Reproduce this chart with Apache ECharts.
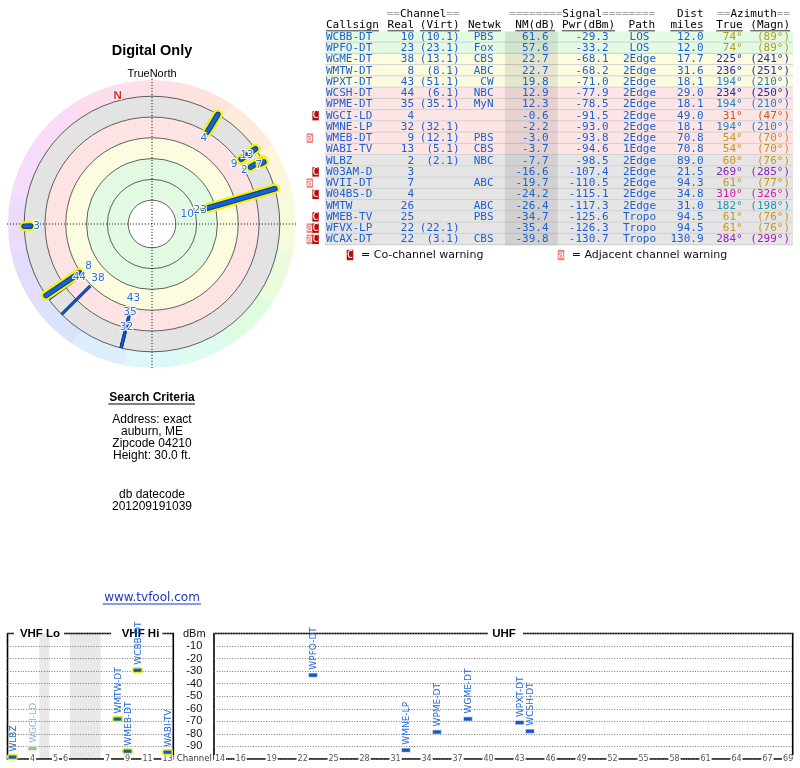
<!DOCTYPE html>
<html><head><meta charset="utf-8">
<script src="https://cdn.jsdelivr.net/npm/echarts@6/dist/echarts.min.js"></script>
<style>html,body{margin:0;padding:0;background:#fff}#main{width:800px;height:768px}</style>
</head><body><div id="main"></div>
<script>
// ---------------- DATA ----------------
const callsigns = ['WCBB-DT','WPFO-DT','WGME-DT','WMTW-DT','WPXT-DT','WCSH-DT','WPME-DT','WGCI-LD','WMNE-LP','WMEB-DT','WABI-TV','WLBZ','W03AM-D','WVII-DT','W04BS-D','WMTW','WMEB-TV','WFVX-LP','WCAX-DT'];
const realChannel = [10,23,38,8,43,44,35,4,32,9,13,2,3,7,4,26,25,22,22];
const virtualChannel = ['10.1','23.1','13.1','8.1','51.1','6.1','35.1','','32.1','12.1','5.1','2.1','','','','','','22.1','3.1'];
const network = ['PBS','Fox','CBS','ABC','CW','NBC','MyN','','','PBS','CBS','NBC','','ABC','','ABC','PBS','','CBS'];
const noiseMarginDb = [61.6,57.6,22.7,22.7,19.8,12.9,12.3,-0.6,-2.2,-3.0,-3.7,-7.7,-16.6,-19.7,-24.2,-26.4,-34.7,-35.4,-39.8];
const powerDbm = [-29.3,-33.2,-68.1,-68.2,-71.0,-77.9,-78.5,-91.5,-93.0,-93.8,-94.6,-98.5,-107.4,-110.5,-115.1,-117.3,-125.6,-126.3,-130.7];
const pathType = ['LOS','LOS','2Edge','2Edge','2Edge','2Edge','2Edge','2Edge','2Edge','2Edge','1Edge','2Edge','2Edge','2Edge','2Edge','2Edge','Tropo','Tropo','Tropo'];
const distMiles = [12.0,12.0,17.7,31.6,18.1,29.0,18.1,49.0,18.1,70.8,70.8,89.0,21.5,94.3,34.8,31.0,94.5,94.5,130.9];
const azimuthTrue = [74,74,225,236,194,234,194,31,194,54,54,60,269,61,310,182,61,61,284];
const azimuthMagn = [89,89,241,251,210,250,210,47,210,70,70,76,285,77,326,198,76,76,299];
const warnings = ['','','','','','','','C','','a','','','C','a','C','','C','aC','aC'];
const tableHeaders = ['Callsign','Real','(Virt)','Netwk','NM(dB)','Pwr(dBm)','Path','miles','True','(Magn)'];
const vhfTickChannels = [4,5,6,7,9,11,13];
const uhfTickChannels = [14,16,19,22,25,28,31,34,37,40,43,46,49,52,55,58,61,64,67,69];
const searchLines = ['Address: exact','auburn, ME','Zipcode 04210','Height: 30.0 ft.'];
const dbDateLines = ['db datecode','201209191039'];

// ---------------- STYLE / LAYOUT ----------------
const MONO = '"DejaVu Sans Mono", monospace';
const SANS = '"DejaVu Sans", sans-serif';
const ARIAL = '"Liberation Sans", Arial, sans-serif';
const BLUE = '#1d5fd0';
const azColor = {31:'#d8501a',54:'#c98f1f',60:'#c9951a',61:'#c9951a',74:'#b39e10',182:'#1e96b4',194:'#2680c2',225:'#2a2aae',234:'#2a28a6',236:'#2a28a6',269:'#8a1ec8',284:'#a21cbc',310:'#d01cb0'};
const rowFill = {green:'#e3fae3', yellow:'#fcfce1', pink:'#fde5e5', gray:'#e5e5e5'};
const rowBand = nm => nm >= 30 ? 'green' : nm >= 15 ? 'yellow' : nm >= -5 ? 'pink' : 'gray';
// polar scale (noise margin, dB): outer circle, colour-wheel edge
const POLAR_EDGE = -24, WHEEL_EDGE = -42.7, CROSS_EDGE = -44;
const polarBands = [[-24,0,'#e3e3e3'],[0,24,'#fde3e3'],[24,48,'#fcfcdf'],[48,96,'#e1fae1']];
const ringLevels = [96,72,48,24,0,-24];
const wheelColors = ['#fde0e6','#fde3dc','#fdebdc','#fdf5dc','#f6fbdc','#eafcdc','#defcdf','#dcfcee','#dcf8fb','#dcedfc','#dde2fc','#e4dcfc','#ecdcfc','#f5dcfb','#fbdcf6','#fddcec'];
const labelGap = {10:17,23:7,4:7,9:8,13:-7,2:7,7:2,3:6,8:11,44:6,38:11,43:13,35:5,32:3};
// VHF frequency-ordered slots (value axis position of each channel) and band gaps
const vhfSlot = {2:0.5,3:1.5,4:2.5,5:4.8,6:5.8,7:10,8:11,9:12,10:13,11:14,12:15,13:16};
const vhfGaps = [[3.18,4.18],[6.25,9.32]];
const slotLabel = {}; Object.keys(vhfSlot).forEach(c => slotLabel[vhfSlot[c]] = c);

const chart = echarts.init(document.getElementById('main'), null, {width:800, height:768});

// ---------------- GRAPHICS (table & texts) ----------------
const G = [];
function T(x, y, text, o) {
  o = o || {};
  const st = {text, fill:o.fill||'#000', fontSize:o.size||11, fontFamily:o.family||MONO, fontWeight:o.weight||'normal', align:o.align||'left', verticalAlign:'middle'};
  if (o.rich) st.rich = o.rich;
  G.push({type:'text', x, y, z:o.z||5, silent:true, style:st});
}
function R(x, y, w, h, fill, z) { G.push({type:'rect', z:z||3, silent:true, shape:{x, y, width:w, height:h}, style:{fill}}); }
function L(x1, y1, x2, y2, stroke, lw, z) { G.push({type:'line', z:z||4, silent:true, shape:{x1, y1, x2, y2}, style:{stroke, lineWidth:lw||1}}); }

const CW = 6.62, ROW0 = 37, ROWH = 11.25, TL = 325, TR = 793;
const H1 = 14.5, H2 = 25;
const gray = {g:{fill:'#a8a8a8', color:'#a8a8a8', fontFamily:MONO, fontSize:11}, b:{fill:'#000', color:'#000', fontFamily:MONO, fontSize:11}};
T(459.5, H1, '{g|==}{b|Channel}{g|==}', {align:'right', rich:gray});
T(655, H1, '{g|========}{b|Signal}{g|========}', {align:'right', rich:gray});
T(703.5, H1, 'Dist', {align:'right'});
T(790, H1, '{g|==}{b|Azimuth}{g|==}', {align:'right', rich:gray});
const headerRight = [null,414,459.5,501,555,615,655,703.5,742.7,790];
tableHeaders.forEach((h, k) => {
  if (k === 0) { T(326, H2, h); L(326, 30.8, 326 + h.length*CW, 30.8, '#000', 0.8); }
  else { T(headerRight[k], H2, h, {align:'right'}); L(headerRight[k] - h.length*CW, 30.8, headerRight[k], 30.8, '#000', 0.8); }
});
callsigns.forEach((cs, i) => {
  const yc = ROW0 + i*ROWH, top = yc - ROWH/2;
  R(TL, top, TR - TL, ROWH, rowFill[rowBand(noiseMarginDb[i])], 2);
  L(TL, top + ROWH - 0.5, TR, top + ROWH - 0.5, '#cfcfcf', 1, 3);
  T(326, yc, cs, {fill:BLUE});
  T(414, yc, String(realChannel[i]), {fill:BLUE, align:'right'});
  if (virtualChannel[i]) T(459.5, yc, '(' + virtualChannel[i] + ')', {fill:BLUE, align:'right'});
  if (network[i]) T(493.5, yc, network[i], {fill:BLUE, align:'right'});
  T(548.5, yc, noiseMarginDb[i].toFixed(1), {fill:BLUE, align:'right'});
  T(608.5, yc, powerDbm[i].toFixed(1), {fill:BLUE, align:'right'});
  T(639.5, yc, pathType[i], {fill:BLUE, align:'center'});
  T(703.5, yc, distMiles[i].toFixed(1), {fill:BLUE, align:'right'});
  const ac = azColor[azimuthTrue[i]] || BLUE;
  T(742.7, yc, azimuthTrue[i] + '°', {fill:ac, align:'right'});
  T(790, yc, '(' + azimuthMagn[i] + '°)', {fill:ac, align:'right'});
  // warning boxes
  const w = warnings[i];
  const boxes = w.length === 2 ? [['a',306.6],['C',312.4]] : w === 'C' ? [['C',312.4]] : w === 'a' ? [['a',306.6]] : [];
  boxes.forEach(([ch, bx]) => {
    R(bx, top + 0.8, 6.4, ROWH - 1.8, ch === 'C' ? '#b50d0d' : '#f08484', 3);
    T(bx + 3.2, yc, ch, {fill:'#fff', size:10, align:'center'});
  });
});
// NM column shading
R(505, ROW0 - ROWH/2, 52.7, ROWH*callsigns.length, 'rgba(0,0,0,0.085)', 4);
// legend
R(346.7, 249.8, 6.6, 10.4, '#b50d0d', 3); T(350, 255, 'C', {fill:'#fff', size:10, align:'center'});
T(361, 255, '= Co-channel warning', {family:SANS, fill:'#111'});
R(557.7, 249.8, 6.6, 10.4, '#f08484', 3); T(561, 255, 'a', {fill:'#fff', size:10, align:'center'});
T(571.7, 255, '= Adjacent channel warning', {family:SANS, fill:'#111'});

// left texts
T(152, 51, 'Digital Only', {family:ARIAL, size:14.5, weight:'bold', align:'center'});
T(152, 74, 'TrueNorth', {family:ARIAL, size:11, align:'center'});
T(152, 397.5, 'Search Criteria', {family:ARIAL, size:12, weight:'bold', align:'center'});
L(108.3, 404, 195, 404, '#000', 1);
searchLines.forEach((s, k) => T(152, 420 + k*12, s, {family:ARIAL, size:12, align:'center'}));
dbDateLines.forEach((s, k) => T(152, 494.3 + k*12, s, {family:ARIAL, size:12, align:'center'}));
T(152, 598, 'www.tvfool.com', {family:SANS, size:12, fill:'#2233c4', align:'center'});
L(102.7, 604, 201, 604, '#2233c4', 1);

// panel titles on the frame
R(14, 629, 50, 9, '#fff', 1); T(40, 634, 'VHF Lo', {family:ARIAL, size:11.5, weight:'bold', align:'center', z:1});
R(111, 629, 51.5, 9, '#fff', 1); T(140.5, 634, 'VHF Hi', {family:ARIAL, size:11.5, weight:'bold', align:'center', z:1});
R(488, 629, 35, 9, '#fff', 1); T(504, 634, 'UHF', {family:ARIAL, size:11.5, weight:'bold', align:'center', z:1});

// ---------------- SERIES ----------------
function rpx(api, cs, nm) { const p = api.coord([nm, 0]); return Math.hypot(p[0] - cs.cx, p[1] - cs.cy); }
const toRad = az => (az - 90) * Math.PI / 180;

const bgSeries = {
  type:'custom', coordinateSystem:'polar', polarIndex:0, silent:true, z:1,
  data:[[0,0]],
  renderItem(params, api) {
    const cs = params.coordSys, cx = cs.cx, cy = cs.cy;
    const ch = [];
    const rw0 = rpx(api, cs, POLAR_EDGE), rw1 = rpx(api, cs, WHEEL_EDGE);
    const n = wheelColors.length, step = 360 / n;
    wheelColors.forEach((c, k) => ch.push({type:'sector', shape:{cx, cy, r0:rw0 - 1, r:rw1, startAngle:toRad(k*step - step/2), endAngle:toRad(k*step + step/2) + 0.004, clockwise:true}, style:{fill:c}}));
    polarBands.forEach(b => ch.push({type:'sector', shape:{cx, cy, r0:rpx(api, cs, b[1]), r:rpx(api, cs, b[0]), startAngle:0, endAngle:Math.PI*2}, style:{fill:b[2]}}));
    ch.push({type:'circle', shape:{cx, cy, r:rpx(api, cs, 96)}, style:{fill:'#fff'}});
    ringLevels.forEach(v => ch.push({type:'circle', shape:{cx, cy, r:rpx(api, cs, v)}, style:{fill:'none', stroke:'#3a3a3a', lineWidth:0.8}}));
    const rc = rpx(api, cs, CROSS_EDGE);
    ch.push({type:'line', shape:{x1:cx - rc, y1:cy, x2:cx + rc, y2:cy}, style:{stroke:'#000', lineWidth:1, lineDash:[1,2]}});
    ch.push({type:'line', shape:{x1:cx, y1:cy - rc, x2:cx, y2:cy + rc}, style:{stroke:'#000', lineWidth:1, lineDash:[1,2]}});
    // magnetic north marker
    const decl = azimuthMagn[0] - azimuthTrue[0];
    const pn = api.coord([-30, 360 - decl]);
    ch.push({type:'text', x:pn[0], y:pn[1], style:{text:'N', fill:'#e0231f', fontSize:11.5, fontWeight:'bold', fontFamily:ARIAL, align:'center', verticalAlign:'middle', stroke:'#fff', lineWidth:2}});
    return {type:'group', children:ch};
  }
};

const polarIdx = callsigns.map((_, i) => i).filter(i => noiseMarginDb[i] > POLAR_EDGE);
const polarOrder = polarIdx.filter(i => realChannel[i] > 13).concat(polarIdx.filter(i => realChannel[i] <= 13));
const polarData = polarOrder.map(i => [noiseMarginDb[i], azimuthTrue[i], i]);

const lineSeries = {
  type:'custom', coordinateSystem:'polar', polarIndex:0, silent:true, z:3,
  data:polarData,
  renderItem(params, api) {
    const i = api.value(2);
    const p0 = api.coord([api.value(0), api.value(1)]);
    const p1 = api.coord([POLAR_EDGE, api.value(1)]);
    const shape = {x1:p0[0], y1:p0[1], x2:p1[0], y2:p1[1]};
    const vhf = realChannel[i] <= 13;
    const ch = vhf ? [
      {type:'line', shape, style:{stroke:'#f2f200', lineWidth:10, lineCap:'round'}},
      {type:'line', shape, style:{stroke:'#0b3d96', lineWidth:5.6, lineCap:'round'}},
      {type:'line', shape, style:{stroke:'#1462d8', lineWidth:3.4, lineCap:'round'}}
    ] : [
      {type:'line', shape, style:{stroke:'#0b3d96', lineWidth:3.2}},
      {type:'line', shape, style:{stroke:'#1462d8', lineWidth:1.2}}
    ];
    return {type:'group', children:ch};
  }
};

const labelSeries = {
  type:'custom', coordinateSystem:'polar', polarIndex:0, silent:true, z:4,
  data:polarData,
  renderItem(params, api) {
    const i = api.value(2), c = realChannel[i];
    const cs = params.coordSys;
    const p0 = api.coord([api.value(0), api.value(1)]);
    const dx = p0[0] - cs.cx, dy = p0[1] - cs.cy, r = Math.hypot(dx, dy);
    const gap = labelGap[c] !== undefined ? labelGap[c] : 7;
    return {type:'text', x:cs.cx + dx/r*(r - gap), y:cs.cy + dy/r*(r - gap),
      style:{text:String(c), fill:'#2a6fd8', fontSize:10.5, fontFamily:SANS, align:'center', verticalAlign:'middle', stroke:'#fff', lineWidth:2}};
  }
};

function markerItem(params, api) {
  const i = api.value(2);
  const p = api.coord([api.value(0), api.value(1)]);
  const vhf = realChannel[i] <= 13;
  const faded = warnings[i].indexOf('C') >= 0;
  const ch = [];
  if (vhf) ch.push({type:'rect', shape:{x:p[0] - 5.6, y:p[1] - 3.3, width:11.2, height:6.6, r:3.3}, style:{fill:faded ? '#f6f0b4' : '#f0ec18'}});
  else ch.push({type:'rect', shape:{x:p[0] - 4.6, y:p[1] - 2.2, width:9.2, height:4.4}, style:{fill:'#bdbdbd'}});
  ch.push({type:'rect', shape:{x:p[0] - 3.9, y:p[1] - 1.6, width:7.8, height:3.2}, style:{fill:faded ? '#8db4e6' : '#0b5bd0'}});
  ch.push({type:'text', x:p[0] + 0.8, y:p[1] - 5.5, rotation:Math.PI/2,
    style:{text:callsigns[i], fill:faded ? '#8ab0e4' : '#2068d8', fontSize:9, fontFamily:SANS, align:'left', verticalAlign:'middle'}});
  return {type:'group', children:ch};
}
const shown = callsigns.map((_, i) => i).filter(i => powerDbm[i] >= -100);
const vhfData = shown.filter(i => realChannel[i] <= 13).map(i => [vhfSlot[realChannel[i]], powerDbm[i], i]);
const uhfData = shown.filter(i => realChannel[i] >= 14).map(i => [realChannel[i], powerDbm[i], i]);

const gapSeries = {
  type:'custom', xAxisIndex:0, yAxisIndex:0, silent:true, z:1, clip:false,
  data:vhfGaps.map(g => [g[0], 0, g[1]]),
  renderItem(params, api) {
    const a = api.coord([api.value(0), 0]), b = api.coord([api.value(2), -100]);
    return {type:'rect', shape:{x:a[0], y:a[1], width:b[0] - a[0], height:b[1] - a[1]}, style:{fill:'rgba(0,0,0,0.09)'}};
  }
};

const gridLine = {show:true, lineStyle:{color:'#7a7a7a', type:[1,1.6], width:1}};
const xLabel = {margin:0, verticalAlign:'middle', fontSize:8, color:'#555', fontFamily:SANS, backgroundColor:'#fff', padding:[0,1]};

const option = {
  animation:false,
  polar:{center:[152,224], radius:[0,146]},
  angleAxis:{type:'value', min:0, max:360, startAngle:90, clockwise:true, axisLine:{show:false}, axisTick:{show:false}, axisLabel:{show:false}, splitLine:{show:false}},
  radiusAxis:{type:'value', min:-45, max:123.5, inverse:true, axisLine:{show:false}, axisTick:{show:false}, axisLabel:{show:false}, splitLine:{show:false}},
  grid:[
    {left:7.5, top:633.5, width:165.8, height:125.5, show:true, borderColor:'#000', borderWidth:1.6, backgroundColor:'rgba(0,0,0,0)'},
    {left:214, top:633.5, width:578.7, height:125.5, show:true, borderColor:'#000', borderWidth:1.6, backgroundColor:'rgba(0,0,0,0)'}
  ],
  xAxis:[
    {gridIndex:0, type:'value', min:0, max:16.58, axisLine:{show:false}, axisTick:{show:false}, splitLine:{show:false},
      axisLabel:Object.assign({customValues:vhfTickChannels.map(c => vhfSlot[c]), formatter:v => slotLabel[v] || ''}, xLabel)},
    {gridIndex:1, type:'value', min:13.42, max:69.44, axisLine:{show:false}, axisTick:{show:false}, splitLine:{show:false},
      axisLabel:Object.assign({customValues:uhfTickChannels, formatter:v => String(v)}, xLabel)}
  ],
  yAxis:[
    {gridIndex:0, type:'value', min:-100, max:0, interval:10, position:'right', axisLine:{show:false}, axisTick:{show:false}, splitLine:gridLine,
      axisLabel:{margin:21, align:'center', fontFamily:ARIAL, fontSize:11, color:'#111',
        formatter:v => v === 0 ? 'dBm' : v === -100 ? '{c|Channel}' : String(v),
        rich:{c:{fontSize:8.5, fontFamily:SANS, color:'#333'}}}},
    {gridIndex:1, type:'value', min:-100, max:0, interval:10, axisLine:{show:false}, axisTick:{show:false}, axisLabel:{show:false}, splitLine:gridLine}
  ],
  series:[
    bgSeries, lineSeries, labelSeries, gapSeries,
    {type:'custom', xAxisIndex:0, yAxisIndex:0, silent:true, z:3, clip:false, data:vhfData, renderItem:markerItem},
    {type:'custom', xAxisIndex:1, yAxisIndex:1, silent:true, z:3, clip:false, data:uhfData, renderItem:markerItem}
  ],
  graphic:{elements:G}
};
chart.setOption(option);
</script></body></html>
